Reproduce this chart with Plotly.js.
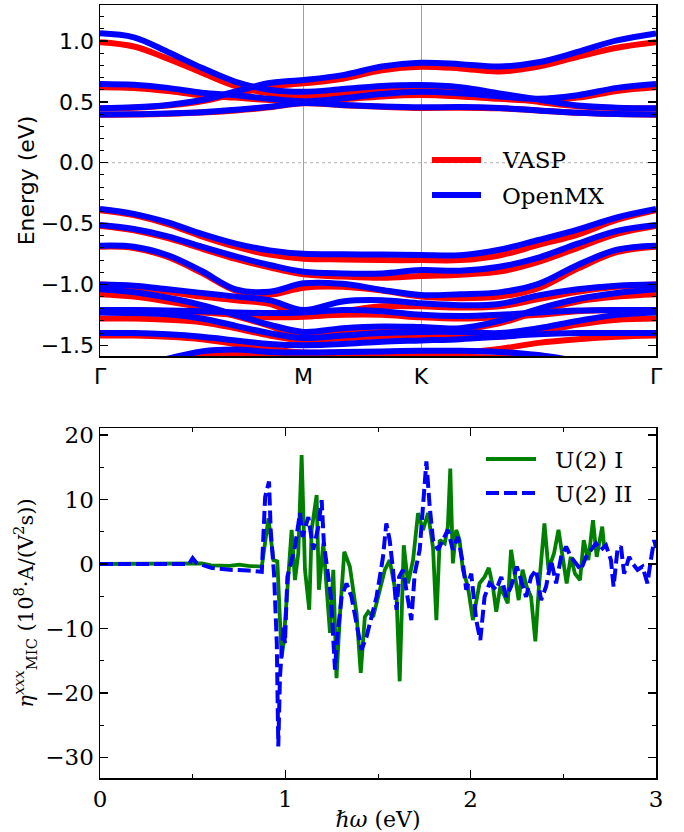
<!DOCTYPE html>
<html>
<head>
<meta charset="utf-8">
<script src="https://cdn.plot.ly/plotly-3.0.1.min.js"></script>
<style>html,body{margin:0;padding:0;background:#fff;}#chart{width:684px;height:832px;}</style>
</head>
<body>
<div id="chart"></div>
<script>
// ---------- Band structure: k-path samples (Γ-M-K-Γ) ----------
const kPath = [0, 0.0962, 0.1925, 0.2887, 0.3849, 0.4811, 0.5774, 0.6885, 0.7996, 0.9107, 1.0218, 1.1329, 1.2440, 1.3551, 1.4663, 1.5774];
const kTickVals = [0, 0.5774, 0.9107, 1.5774];
const kTickText = ['Γ', 'M', 'K', 'Γ'];

// VASP bands (eV)
const vaspBands = [
  [0.99, 0.955, 0.855, 0.74, 0.63, 0.57, 0.548, 0.57, 0.595, 0.603, 0.585, 0.545, 0.50, 0.465, 0.45, 0.445],
  [0.445, 0.452, 0.47, 0.505, 0.565, 0.625, 0.652, 0.69, 0.76, 0.789, 0.775, 0.75, 0.79, 0.87, 0.945, 0.99],
  [0.62, 0.615, 0.59, 0.555, 0.535, 0.515, 0.50, 0.52, 0.545, 0.556, 0.545, 0.525, 0.51, 0.535, 0.59, 0.62],
  [0.395, 0.396, 0.402, 0.412, 0.43, 0.455, 0.488, 0.472, 0.46, 0.45, 0.452, 0.447, 0.43, 0.41, 0.40, 0.395],
  [-0.39, -0.43, -0.505, -0.605, -0.69, -0.755, -0.788, -0.795, -0.80, -0.80, -0.80, -0.762, -0.675, -0.59, -0.47, -0.39],
  [-0.52, -0.555, -0.62, -0.705, -0.79, -0.86, -0.917, -0.935, -0.945, -0.931, -0.92, -0.895, -0.815, -0.70, -0.585, -0.52],
  [-0.69, -0.70, -0.775, -0.905, -1.05, -1.085, -1.027, -1.02, -1.05, -1.10, -1.114, -1.10, -1.03, -0.87, -0.735, -0.69],
  [-1.00, -1.02, -1.06, -1.10, -1.13, -1.16, -1.26, -1.22, -1.18, -1.18, -1.19, -1.18, -1.12, -1.06, -1.02, -1.00],
  [-1.08, -1.10, -1.14, -1.19, -1.26, -1.34, -1.43, -1.40, -1.39, -1.375, -1.37, -1.32, -1.22, -1.14, -1.10, -1.08],
  [-1.21, -1.21, -1.22, -1.23, -1.25, -1.27, -1.265, -1.25, -1.25, -1.27, -1.28, -1.27, -1.25, -1.22, -1.21, -1.21],
  [-1.28, -1.28, -1.29, -1.31, -1.36, -1.42, -1.46, -1.44, -1.43, -1.42, -1.42, -1.43, -1.39, -1.33, -1.29, -1.28],
  [-1.42, -1.42, -1.43, -1.45, -1.49, -1.53, -1.56, -1.56, -1.56, -1.56, -1.56, -1.53, -1.48, -1.45, -1.43, -1.42],
  [-1.75, -1.70, -1.64, -1.59, -1.57, -1.58, -1.60, -1.60, -1.60, -1.60, -1.60, -1.60, -1.62, -1.66, -1.70, -1.75]
];

// OpenMX bands (eV)
const openmxBands = [
  [1.063, 1.03, 0.91, 0.78, 0.665, 0.60, 0.583, 0.605, 0.63, 0.638, 0.62, 0.57, 0.52, 0.47, 0.452, 0.447],
  [0.447, 0.455, 0.475, 0.515, 0.585, 0.655, 0.68, 0.72, 0.79, 0.822, 0.81, 0.79, 0.825, 0.91, 1.005, 1.063],
  [0.647, 0.64, 0.615, 0.575, 0.555, 0.525, 0.505, 0.53, 0.565, 0.583, 0.57, 0.545, 0.525, 0.555, 0.615, 0.647],
  [0.397, 0.398, 0.405, 0.415, 0.435, 0.46, 0.49, 0.475, 0.462, 0.455, 0.458, 0.45, 0.43, 0.41, 0.40, 0.397],
  [-0.38, -0.42, -0.49, -0.585, -0.665, -0.72, -0.748, -0.752, -0.755, -0.758, -0.76, -0.715, -0.635, -0.55, -0.45, -0.38],
  [-0.512, -0.545, -0.605, -0.69, -0.77, -0.84, -0.896, -0.91, -0.91, -0.882, -0.887, -0.855, -0.78, -0.665, -0.56, -0.512],
  [-0.682, -0.69, -0.76, -0.89, -1.04, -1.06, -0.991, -0.995, -1.045, -1.087, -1.08, -1.065, -0.995, -0.84, -0.715, -0.682],
  [-1.00, -1.01, -1.04, -1.07, -1.10, -1.13, -1.21, -1.14, -1.13, -1.155, -1.17, -1.16, -1.09, -1.04, -1.01, -1.00],
  [-1.04, -1.065, -1.11, -1.17, -1.25, -1.33, -1.39, -1.36, -1.345, -1.35, -1.36, -1.30, -1.20, -1.12, -1.07, -1.04],
  [-1.21, -1.21, -1.215, -1.22, -1.23, -1.235, -1.23, -1.21, -1.22, -1.25, -1.26, -1.25, -1.23, -1.215, -1.21, -1.21],
  [-1.23, -1.235, -1.245, -1.28, -1.34, -1.40, -1.44, -1.42, -1.40, -1.39, -1.39, -1.40, -1.36, -1.30, -1.25, -1.23],
  [-1.40, -1.40, -1.41, -1.43, -1.46, -1.49, -1.50, -1.49, -1.47, -1.46, -1.45, -1.43, -1.41, -1.40, -1.40, -1.40],
  [-1.72, -1.68, -1.61, -1.55, -1.535, -1.555, -1.56, -1.555, -1.55, -1.545, -1.545, -1.555, -1.58, -1.63, -1.68, -1.72]
];

// ---------- Optical response ----------
const omegaI = [0, 0.5, 0.55, 0.6, 0.7, 0.75, 0.8, 0.873, 0.909, 0.936, 0.957, 0.971, 0.98, 0.99, 1.011, 1.034, 1.052, 1.07, 1.088, 1.106, 1.129, 1.142, 1.169, 1.181, 1.205, 1.219, 1.241, 1.259, 1.276, 1.294, 1.318, 1.348, 1.384, 1.407, 1.429, 1.447, 1.474, 1.51, 1.537, 1.563, 1.6, 1.617, 1.639, 1.662, 1.689, 1.716, 1.743, 1.77, 1.797, 1.815, 1.833, 1.86, 1.877, 1.89, 1.904, 1.922, 1.94, 1.958, 1.985, 2.012, 2.03, 2.048, 2.075, 2.098, 2.12, 2.138, 2.16, 2.183, 2.2, 2.218, 2.236, 2.259, 2.28, 2.302, 2.326, 2.349, 2.367, 2.398, 2.42, 2.45, 2.474, 2.497, 2.518, 2.54, 2.563, 2.59, 2.61, 2.635, 2.66, 2.68, 2.71, 2.72];
const etaI = [0, 0, 0.1, -0.2, -0.3, -0.1, -0.3, -0.4, 7.1, 0.6, 0.4, -8.7, -14.4, -12.4, -3.5, 5.3, -2.5, 1.7, 16.9, -0.9, -7.1, 5.3, 10.7, -4.0, 3.2, -2.5, -10.7, -0.9, -17.7, -8.2, 1.9, -0.4, -7.6, -16.9, -8.2, -7.4, -8.2, -4.0, -0.9, 0.6, -5.1, -18.2, 2.9, -3.0, 0.6, 7.9, 5.3, 7.9, 2.5, -8.7, 3.7, 3.2, 5.8, 14.8, 0.1, 5.3, 3.7, -0.9, -3.5, -8.7, -6.1, -3.0, -2.0, -0.6, -3.5, -7.4, -3.5, -5.1, -6.1, 2.2, -0.9, -5.6, -0.9, -3.5, -5.1, -12.0, -4.0, 6.3, -0.9, 1.7, 5.3, 1.1, -3.0, 1.1, -1.5, -2.5, 3.7, 0.6, 6.8, 1.1, 5.8, 2.7];

const omegaII = [0, 0.48, 0.5, 0.52, 0.6, 0.7, 0.8, 0.873, 0.891, 0.912, 0.921, 0.939, 0.954, 0.962, 0.971, 0.99, 0.998, 1.011, 1.034, 1.052, 1.079, 1.093, 1.124, 1.151, 1.178, 1.196, 1.208, 1.228, 1.246, 1.268, 1.28, 1.304, 1.33, 1.357, 1.384, 1.411, 1.438, 1.465, 1.492, 1.51, 1.527, 1.545, 1.563, 1.581, 1.6, 1.614, 1.635, 1.68, 1.698, 1.725, 1.743, 1.761, 1.779, 1.797, 1.824, 1.85, 1.877, 1.904, 1.931, 1.958, 1.976, 2.003, 2.03, 2.052, 2.075, 2.102, 2.138, 2.165, 2.192, 2.218, 2.249, 2.272, 2.299, 2.326, 2.353, 2.38, 2.407, 2.434, 2.461, 2.488, 2.515, 2.541, 2.568, 2.595, 2.622, 2.649, 2.676, 2.703, 2.73, 2.757, 2.771, 2.792, 2.811, 2.828, 2.855, 2.873, 2.9, 2.927, 2.954, 2.972, 2.99, 3.0];
const etaII = [0, 0, 0.9, 0.2, -0.6, -0.9, -1.0, -1.2, 10.4, 12.8, 5.3, -1.5, -12.3, -28.3, -17.5, -9.7, -12.3, -2.0, 0.6, 2.7, 7.9, 4.2, 7.3, 2.2, 5.8, 9.9, 3.2, -0.9, -5.1, -16.4, -11.3, -5.1, -3.0, -5.1, -9.2, -13.3, -11.3, -8.2, -5.1, -2.0, 1.1, 6.3, 3.7, -0.9, -7.1, -2.0, -0.9, -8.7, -1.5, 2.2, 8.9, 15.9, 8.9, 3.7, 2.2, 3.7, 5.3, 2.2, 4.2, 0.1, -4.0, -1.5, -8.7, -11.8, -5.1, -3.0, -4.0, -2.0, -5.1, -3.5, -0.4, -2.5, -5.1, -2.0, -0.9, -5.6, -3.5, 0.6, -3.0, 1.1, 2.7, 1.1, 0.1, -0.9, 1.1, 2.2, 3.2, 2.2, 2.9, 0.6, -3.5, 2.2, 2.7, -1.5, 1.1, 0.1, -0.9, -0.4, -3.0, 0.6, 3.7, 2.5];

// ---------- Build traces ----------
function joinBands(bands) {
  const x = [], y = [];
  bands.forEach((b, i) => {
    if (i > 0) { x.push(null); y.push(null); }
    b.forEach((v, j) => { x.push(kPath[j]); y.push(v); });
  });
  return {x, y};
}
const vj = joinBands(vaspBands);
const oj = joinBands(openmxBands);

const traces = [
  {x: vj.x, y: vj.y, xaxis: 'x', yaxis: 'y', mode: 'lines', name: 'VASP',
   line: {color: '#ff0000', width: 6, shape: 'spline', smoothing: 1}, connectgaps: false, showlegend: false, hoverinfo: 'skip'},
  {x: oj.x, y: oj.y, xaxis: 'x', yaxis: 'y', mode: 'lines', name: 'OpenMX',
   line: {color: '#0000ff', width: 6, shape: 'spline', smoothing: 1}, connectgaps: false, showlegend: false, hoverinfo: 'skip'},
  {x: omegaI, y: etaI, xaxis: 'x2', yaxis: 'y2', mode: 'lines', name: 'U(2) I',
   line: {color: '#008000', width: 3.8}, showlegend: false},
  {x: omegaII, y: etaII, xaxis: 'x2', yaxis: 'y2', mode: 'lines', name: 'U(2) II',
   line: {color: '#0000ff', width: 4, dash: '13px,5px'}, showlegend: false}
];

const sans = 'DejaVu Sans, sans-serif';
const serif = 'DejaVu Serif, serif';
const px = (v) => v / 684, py = (v) => 1 - v / 832;

const layout = {
  width: 684, height: 832,
  margin: {l: 0, r: 0, t: 0, b: 0},
  paper_bgcolor: '#ffffff', plot_bgcolor: '#ffffff',
  showlegend: false,
  xaxis: {
    domain: [px(100), px(656)], anchor: 'y', range: [0, 1.5774],
    tickmode: 'array', tickvals: kTickVals, ticktext: kTickText,
    ticks: '', showgrid: true, gridcolor: '#a0a0a0', gridwidth: 1,
    showline: true, linecolor: '#000', linewidth: 1.5, mirror: true,
    zeroline: false, automargin: false,
    tickfont: {family: sans, size: 22, color: '#000'}
  },
  yaxis: {
    domain: [py(356), py(5)], anchor: 'x', range: [-1.588, 1.296],
    tick0: 0, dtick: 0.5, tickformat: '.1f',
    ticks: 'inside', ticklen: 8, tickwidth: 1.5, tickcolor: '#000',
    minor: {dtick: 0.1, ticks: 'inside', ticklen: 4, tickwidth: 1, tickcolor: '#000', showgrid: false},
    showline: true, linecolor: '#000', linewidth: 1.5, mirror: 'allticks',
    showgrid: false, zeroline: false, automargin: false,
    tickfont: {family: sans, size: 22, color: '#000'},
    title: {text: 'Energy (eV)', font: {family: sans, size: 22, color: '#000'}, standoff: 0}
  },
  xaxis2: {
    domain: [px(100), px(656)], anchor: 'y2', range: [0, 3],
    tick0: 0, dtick: 1,
    ticks: 'inside', ticklen: 8, tickwidth: 1.5, tickcolor: '#000',
    minor: {dtick: 0.5, ticks: 'inside', ticklen: 4, tickwidth: 1, tickcolor: '#000', showgrid: false},
    showline: true, linecolor: '#000', linewidth: 1.5, mirror: 'allticks',
    showgrid: false, zeroline: false, automargin: false,
    tickfont: {family: serif, size: 23, color: '#000'},
    title: {text: '<i>ℏω</i> (eV)', font: {family: serif, size: 22, color: '#000'}, standoff: 4}
  },
  yaxis2: {
    domain: [py(778), py(428)], anchor: 'x2', range: [-33.2, 21.1],
    tick0: 0, dtick: 10,
    ticks: 'inside', ticklen: 8, tickwidth: 1.5, tickcolor: '#000',
    minor: {dtick: 5, ticks: 'inside', ticklen: 4, tickwidth: 1, tickcolor: '#000', showgrid: false},
    showline: true, linecolor: '#000', linewidth: 1.5, mirror: 'allticks',
    showgrid: false, zeroline: false, automargin: false,
    tickfont: {family: serif, size: 23, color: '#000'},
    title: {text: '<i>η</i><sup><i>xxx</i></sup><sub>MIC</sub> (10<sup>8</sup>·A/(V<sup>2</sup>s))', font: {family: serif, size: 21, color: '#000'}, standoff: 6}
  },
  shapes: [
    {type: 'line', xref: 'x', yref: 'y', x0: 0, x1: 1.5774, y0: 0, y1: 0, line: {color: '#b0b0b0', width: 1, dash: 'dot'}, layer: 'below'},
    {type: 'line', xref: 'paper', yref: 'paper', x0: px(432), x1: px(481), y0: py(160), y1: py(160), line: {color: '#ff0000', width: 6}},
    {type: 'line', xref: 'paper', yref: 'paper', x0: px(432), x1: px(481), y0: py(195), y1: py(195), line: {color: '#0000ff', width: 6}},
    {type: 'line', xref: 'paper', yref: 'paper', x0: px(486), x1: px(536), y0: py(459), y1: py(459), line: {color: '#008000', width: 3.8}},
    {type: 'line', xref: 'paper', yref: 'paper', x0: px(486), x1: px(536), y0: py(493), y1: py(493), line: {color: '#0000ff', width: 4, dash: '13px,5px'}}
  ],
  annotations: [
    {xref: 'paper', yref: 'paper', x: px(500), y: py(160), xanchor: 'left', yanchor: 'middle', showarrow: false, text: 'VASP', font: {family: serif, size: 23, color: '#000'}},
    {xref: 'paper', yref: 'paper', x: px(500), y: py(196), xanchor: 'left', yanchor: 'middle', showarrow: false, text: 'OpenMX', font: {family: serif, size: 23, color: '#000'}},
    {xref: 'paper', yref: 'paper', x: px(553), y: py(460), xanchor: 'left', yanchor: 'middle', showarrow: false, text: 'U(2) I', font: {family: serif, size: 23, color: '#000'}},
    {xref: 'paper', yref: 'paper', x: px(553), y: py(494), xanchor: 'left', yanchor: 'middle', showarrow: false, text: 'U(2) II', font: {family: serif, size: 23, color: '#000'}}
  ]
};

Plotly.newPlot('chart', traces, layout, {displayModeBar: false, staticPlot: true});
</script>
</body>
</html>
